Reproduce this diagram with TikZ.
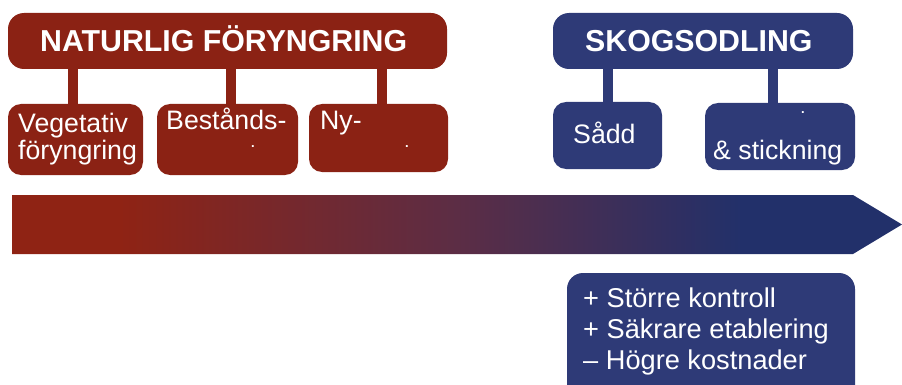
\documentclass[tikz,border=0pt]{standalone}
\usepackage{fontspec}
\setmainfont{Liberation Sans}
\definecolor{nred}{HTML}{8B2214}
\definecolor{sblue}{HTML}{2E3A77}
\definecolor{ared}{HTML}{8F2314}
\definecolor{amid}{HTML}{5C2D45}
\definecolor{ablue}{HTML}{22306A}
\pgfdeclarehorizontalshading{arrowshade}{100bp}{color(0bp)=(ared); color(31bp)=(ared); color(50bp)=(amid); color(66bp)=(ablue); color(100bp)=(ablue)}
\tikzset{
  rbox/.style={draw=none, fill=nred, rounded corners=#1, inner sep=0pt},
  bbox/.style={draw=none, fill=sblue, rounded corners=#1, inner sep=0pt},
  rlink/.style={draw=nred, line width=10pt},
  blink/.style={draw=sblue, line width=10pt},
  titletext/.style={anchor=base west, text=white, inner sep=0pt, font=\fontsize{30.3}{32}\bfseries\selectfont},
  subtext/.style={anchor=base west, text=white, inner sep=0pt, font=\fontsize{26.7}{27}\selectfont},
  dottext/.style={anchor=base, text=white, inner sep=0pt, text height=2pt, text depth=0pt, font=\fontsize{13}{13}\bfseries\selectfont},
  listtext/.style={anchor=base west, text=white, inner sep=0pt, font=\fontsize{27.2}{31}\selectfont},
}
\begin{document}
\begin{tikzpicture}[x=1pt,y=-1pt]
\useasboundingbox (0,0) rectangle (902,385);
\clip (0,0) rectangle (902,385);
% arrow
\shade[shading=arrowshade] (12,195) -- (853,195) -- (902,224.5) -- (853,254) -- (12,254) -- cycle;
% red group
\node[rbox=16pt, minimum width=439pt, minimum height=56pt] (nat) at (227.5,41) {};
\node[rbox=13pt, minimum width=135pt, minimum height=71pt] (veg) at (75.5,139.5) {};
\node[rbox=13pt, minimum width=141pt, minimum height=71pt] (best) at (227.5,139.5) {};
\node[rbox=13pt, minimum width=139pt, minimum height=68pt] (ny) at (378.5,138) {};
\draw[rlink] ([xshift=-2.5pt]veg.north) -- ([xshift=-2.5pt]veg.north |- nat.south);
\draw[rlink] ([xshift=3.5pt]best.north) -- ([xshift=3.5pt]best.north |- nat.south);
\draw[rlink] ([xshift=3.5pt]ny.north) -- ([xshift=3.5pt]ny.north |- nat.south);
\node[titletext] (natT) at (40,52) {NATURLIG FÖRYNGRING};
\node[subtext] (vegT1) at (18,132) {Vegetativ};
\node[subtext] (vegT2) at (18,160) {föryngring};
\node[subtext] (bestT) at (166,130) {Bestånds-};
\node[dottext] (bestD) at (253,147.5) {.};
\node[subtext] (nyT) at (320,130) {Ny-};
\node[dottext] (nyD) at (407,147.5) {.};
% blue group
\node[bbox=16pt, minimum width=300pt, minimum height=56pt] (skog) at (703,41) {};
\node[bbox=13pt, minimum width=109pt, minimum height=67pt] (sadd) at (607.5,135.5) {};
\node[bbox=13pt, minimum width=150pt, minimum height=67pt] (stick) at (780,136.5) {};
\draw[blink] (sadd.north) -- (sadd.north |- skog.south);
\draw[blink] ([xshift=-7pt]stick.north) -- ([xshift=-7pt]stick.north |- skog.south);
\node[titletext] (skogT) at (585,52) {SKOGSODLING};
\node[subtext] (saddT) at (573,143) {Sådd};
\node[dottext] (stickD) at (803,114) {.};
\node[subtext] (stickT) at (713,160) {\& stickning};
% bottom box
\node[bbox=16pt, minimum width=288pt, minimum height=140pt] (pro) at (711,343) {};
\node[listtext] (pro1) at (583,307) {+ Större kontroll};
\node[listtext] (pro2) at (583,338) {+ Säkrare etablering};
\node[listtext] (pro3) at (583,369) {– Högre kostnader};
\end{tikzpicture}
\end{document}
